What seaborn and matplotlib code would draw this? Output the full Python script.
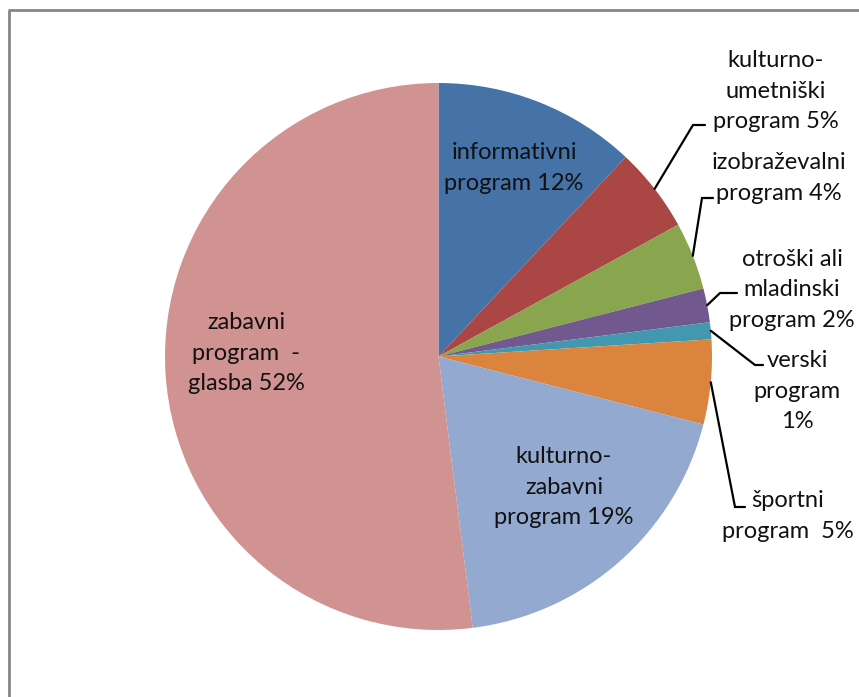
import numpy as np
import matplotlib
matplotlib.use("Agg")
import matplotlib.pyplot as plt
from matplotlib.lines import Line2D
import seaborn as sns

# data
categories = ["informativni program", "kulturno-umetniški program",
              "izobraževalni program", "otroški ali mladinski program",
              "verski program", "športni program",
              "kulturno-zabavni program", "zabavni program - glasba"]
shares = [12, 5, 4, 2, 1, 5, 19, 52]
labels = ["informativni\nprogram 12%", "kulturno-\numetniški\nprogram 5%",
          "izobraževalni\nprogram 4%", "otroški ali\nmladinski\nprogram 2%",
          "verski\nprogram\n1%", "športni\nprogram  5%",
          "kulturno-\nzabavni\nprogram 19%", "zabavni\nprogram  -\nglasba 52%"]
colors = ["#4572A7", "#AA4643", "#89A54E", "#71588F",
          "#4198AF", "#DB843D", "#93A9CF", "#D19392"]

sns.set_style("white")
plt.rcParams["font.family"] = ["Lato", "DejaVu Sans"]

W, H = 859, 697
fig = plt.figure(figsize=(W / 100, H / 100), dpi=100)
ax = fig.add_axes([0, 0, 1, 1])

cx, cy, r = 438.5, H - 356.5, 273.5
wedges, _ = ax.pie(shares, colors=colors, startangle=90, counterclock=False,
                   center=(cx, cy), radius=r, frame=True,
                   wedgeprops=dict(linewidth=0))
ax.set_xlim(0, W)
ax.set_ylim(0, H)
ax.set_aspect("equal")
ax.axis("off")

# label layout: (text x, text y) in pixels from top-left, elbow point or None
layout = [
    ((514, 168), None),
    ((776, 91), (693, 125)),
    ((779, 178), (702, 198)),
    ((792, 290), (720, 293)),
    ((797, 391), (755, 365)),
    ((788, 516), (735, 507)),
    ((564, 487), None),
    ((246, 353), None),
]
hook = [None, 12, 11, 17, 8, 10, None, None]

for w, lab, (txt, elbow), hk in zip(wedges, labels, layout, hook):
    ax.text(txt[0], H - txt[1], lab, ha="center", va="center",
            fontsize=17, color="#111111", linespacing=1.55)
    if elbow is not None:
        mid = np.deg2rad((w.theta1 + w.theta2) / 2)
        x0, y0 = cx + r * np.cos(mid), cy + r * np.sin(mid)
        ex, ey = elbow[0], H - elbow[1]
        ax.plot([x0, ex, ex + hk], [y0, ey, ey], color="black", lw=1.6,
                solid_joinstyle="miter")

# chart frame (left and top edges visible)
fig.add_artist(Line2D([8.5 / W, 8.5 / W, 1], [0, 1 - 10 / H, 1 - 10 / H],
                      transform=fig.transFigure, color="#868686", lw=2))

fig.savefig("out.png", dpi=100)
